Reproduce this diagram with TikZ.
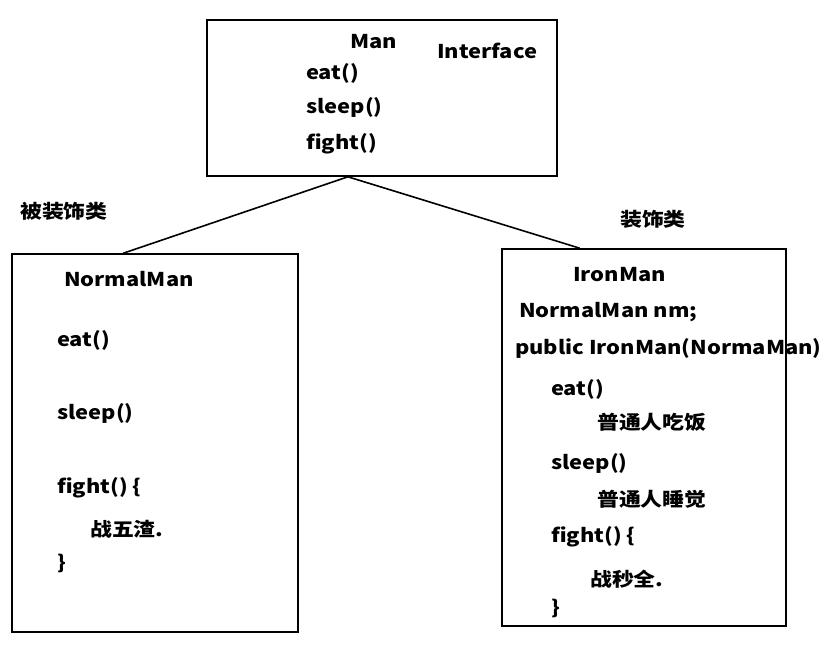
\documentclass[tikz,border=0pt]{standalone}
\usepackage{fontspec}
\setmainfont{Noto Sans CJK SC}[FakeStretch=1.15, BoldFeatures={FakeStretch=1.15}]
\usepackage{tikz}
\usetikzlibrary{positioning, calc}

\begin{document}
\begin{tikzpicture}[x=1pt, y=-1pt,
  box/.style={draw=black, line width=1.6pt, inner sep=0pt},
  txt/.style={anchor=west, inner sep=0pt, font=\fontsize{19}{22}\selectfont\bfseries},
  link/.style={line width=1.6pt}]
\useasboundingbox (0,0) rectangle (840,645);

% interface box
\node[box, minimum width=350pt, minimum height=156pt] (man) at (382,98) {};
\node[txt] (manname) at (350,42) {Man};
\node[txt] (iface) at (437,51) {Interface};
\node[txt] (maneat) at (306,73) {eat()};
\node[txt] (mansleep) at (306,107) {sleep()};
\node[txt] (manfight) at (306,144) {fight()};

% decorated class
\node[box, minimum width=286pt, minimum height=378pt] (normal) at (155,443) {};
\node[txt] (lblnormal) at (20,211) {被装饰类};
\node[txt] (normalname) at (64,279) {NormalMan};
\node[txt] (normaleat) at (57,340) {eat()};
\node[txt] (normalsleep) at (57,413) {sleep()};
\node[txt] (normalfight) at (57,488) {fight() \{};
\node[txt] (normalbody) at (90,529) {战五渣.};
\node[txt] (normalend) at (57,563) {\}};

% decorator class
\node[box, minimum width=284pt, minimum height=377pt] (iron) at (644,437.5) {};
\node[txt] (lbliron) at (620,219) {装饰类};
\node[txt] (ironname) at (573,275) {IronMan};
\node[txt] (ironfield) at (519,312) {NormalMan nm;};
\node[txt] (ironctor) at (515,348) {public IronMan(NormaMan)};
\node[txt] (ironeat) at (551,389) {eat()};
\node[txt] (ironeatbody) at (597,422) {普通人吃饭};
\node[txt] (ironsleep) at (551,463) {sleep()};
\node[txt] (ironsleepbody) at (597,499) {普通人睡觉};
\node[txt] (ironfight) at (551,537) {fight() \{};
\node[txt] (ironfightbody) at (590,579) {战秒全.};
\node[txt] (ironend) at (551,608) {\}};

% connectors
\coordinate (join) at ($(man.south west)!0.403!(man.south east)$);
\coordinate (normaltop) at ($(normal.north west)!0.39!(normal.north east)$);
\coordinate (irontop) at ($(iron.north west)!0.275!(iron.north east)$);
\draw[link] (join) -- (normaltop);
\draw[link] (join) -- (irontop);
\end{tikzpicture}
\end{document}
